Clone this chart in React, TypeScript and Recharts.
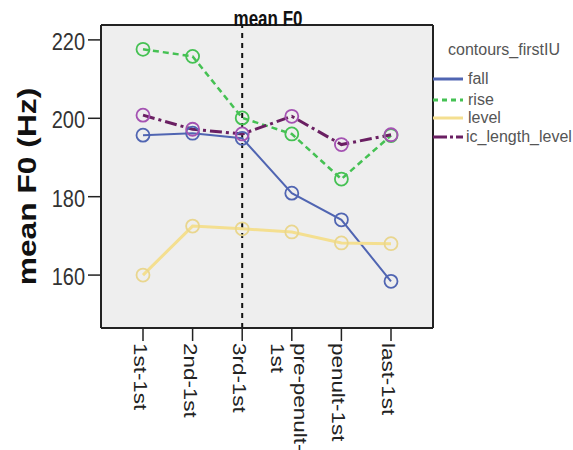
import React from 'react';
import { LineChart, Line, XAxis, YAxis, CartesianGrid, ReferenceLine, Legend } from 'recharts';

const categories = ['1st-1st', '2nd-1st', '3rd-1st', 'pre-penult-1st', 'penult-1st', 'last-1st'];
const fallValues = [195.7, 196.2, 194.9, 180.9, 174.1, 158.4];
const riseValues = [217.6, 215.8, 200.1, 196.0, 184.5, 195.6];
const levelValues = [160.0, 172.5, 171.8, 171.0, 168.2, 168.0];
const icLengthLevelValues = [200.8, 197.2, 196.0, 200.5, 193.3, 195.8];
const yTicks = [160, 180, 200, 220];
const yDomain: [number, number] = [146.5, 223.8];
const referenceCategory = '3rd-1st';
const chartTitle = 'mean F0';
const yLabel = 'mean F0 (Hz)';
const legendTitle = 'contours_firstIU';
const seriesNames = ['fall', 'rise', 'level', 'ic_length_level'];

const FONT = '"Liberation Sans", Arial, sans-serif';

const data = categories.map((c, i) => ({
  cat: c,
  fall: fallValues[i],
  rise: riseValues[i],
  level: levelValues[i],
  ic_length_level: icLengthLevelValues[i],
}));

const seriesStyle: Record<string, { color: string; dot: string; dash?: string; width: number }> = {
  fall: { color: '#5065b2', dot: '#5065b2', width: 2 },
  rise: { color: '#45c153', dot: '#45c153', dash: '6 4', width: 2.5 },
  level: { color: '#f4df90', dot: '#e9d68e', width: 3 },
  ic_length_level: { color: '#6a1f62', dot: '#a452b2', dash: '12 4 3 4', width: 3 },
};

const splitLabel = (label: string): string[] => {
  if (label.length > 12) {
    const idx = label.lastIndexOf('-');
    return [label.slice(0, idx + 1), label.slice(idx + 1)];
  }
  return [label];
};

const XTick = (props: any) => {
  const { x, y, payload } = props;
  const lines = splitLabel(String(payload.value));
  const n = lines.length;
  return (
    <g transform={`translate(${x},${y}) scale(1,1.18) rotate(90)`}>
      {lines.map((l, i) => (
        <text
          key={i}
          x={0}
          y={9 - (n - 1) * 11.5 + i * 23}
          textAnchor="start"
          fontSize={19}
          fontFamily={FONT}
          fill="#222"
        >
          {l}
        </text>
      ))}
    </g>
  );
};

const YTick = (props: any) => {
  const { x, y, payload } = props;
  return (
    <text
      transform={`translate(${x},${y + 2}) scale(1,1.15)`}
      textAnchor="end"
      dominantBaseline="central"
      fontSize={20}
      fontFamily={FONT}
      fill="#333"
    >
      {payload.value}
    </text>
  );
};

const YLabel = (props: any) => {
  const vb = props.viewBox || { x: 0, y: 25, width: 101, height: 303 };
  const cy = vb.y + vb.height / 2 + 10;
  return (
    <text
      transform={`translate(36,${cy}) scale(1,1.27) rotate(-90)`}
      textAnchor="middle"
      fontSize={25}
      fontWeight="bold"
      fontFamily={FONT}
      fill="#111"
    >
      {yLabel}
    </text>
  );
};

const renderLegend = () => (
  <svg width={143} height={125} style={{ overflow: 'visible' }}>
    <text x={18} y={25} fontSize={16} fontFamily={FONT} fill="#555">
      {legendTitle}
    </text>
    {seriesNames.map((name, i) => {
      const st = seriesStyle[name];
      const cy = [49, 70, 88, 107][i];
      return (
        <g key={name}>
          <line x1={3} x2={33} y1={cy} y2={cy} stroke={st.color} strokeWidth={3} strokeDasharray={st.dash ? (name === 'rise' ? '5 4' : '14 3 3 3') : undefined} />
          <text x={name === 'ic_length_level' ? 36 : 38} y={cy + 5} fontSize={16} fontFamily={FONT} fill="#555">
            {name}
          </text>
        </g>
      );
    })}
  </svg>
);

const makeDot = (color: string) => (p: any) => (
  <circle key={`${color}-${p.index}`} cx={p.cx} cy={p.cy} r={6.5} fill="none" stroke={color} strokeWidth={1.8} />
);

const edgeX = (p: any) => [p.offset.left, p.offset.left + p.offset.width];
const edgeY = (p: any) => [p.offset.top, p.offset.top + p.offset.height];

export default function App() {
  const axisStroke = { stroke: '#222', strokeWidth: 2 };
  const tickStroke = { stroke: '#222', strokeWidth: 1.5 };
  return (
    <div style={{ position: 'absolute', left: 0, top: 0, width: 573, height: 450, background: '#fff' }}>
      <LineChart width={573} height={450} data={data} margin={{ top: 25, right: 140, bottom: 0, left: 0 }}>
        <CartesianGrid fill="#eeeeee" horizontal={false} vertical={false} />
        <CartesianGrid
          stroke="#222"
          strokeWidth={2}
          strokeDasharray="0"
          horizontalCoordinatesGenerator={edgeY}
          verticalCoordinatesGenerator={edgeX}
        />
        <XAxis
          dataKey="cat"
          type="category"
          height={122}
          padding={{ left: 42, right: 42 }}
          interval={0}
          tickSize={13}
          tickMargin={2}
          tickLine={tickStroke}
          axisLine={axisStroke}
          tick={<XTick />}
        />
        <YAxis
          type="number"
          domain={yDomain}
          ticks={yTicks}
          allowDataOverflow
          width={101}
          tickSize={13}
          tickMargin={3}
          tickLine={tickStroke}
          axisLine={axisStroke}
          tick={<YTick />}
          label={<YLabel />}
        />
        <ReferenceLine x={referenceCategory} stroke="#111" strokeWidth={2} strokeDasharray="5 5" />
        {seriesNames.map((name) => {
          const st = seriesStyle[name];
          return (
            <Line
              key={name}
              dataKey={name}
              name={name}
              type="linear"
              stroke={st.color}
              strokeWidth={st.width}
              strokeDasharray={st.dash}
              dot={makeDot(st.dot)}
              activeDot={false}
              isAnimationActive={false}
            />
          );
        })}
        <Legend
          layout="vertical"
          align="center"
          verticalAlign="middle"
          wrapperStyle={{ left: 430, top: 30, width: 143, height: 125 }}
          content={renderLegend}
        />
      </LineChart>
      <svg width={573} height={40} style={{ position: 'absolute', left: 0, top: 0, pointerEvents: 'none' }}>
        <text
          transform="translate(268,26) scale(1,1.3)"
          textAnchor="middle"
          fontSize={17}
          fontWeight="bold"
          fontFamily={FONT}
          fill="#111"
        >
          {chartTitle}
        </text>
      </svg>
    </div>
  );
}
